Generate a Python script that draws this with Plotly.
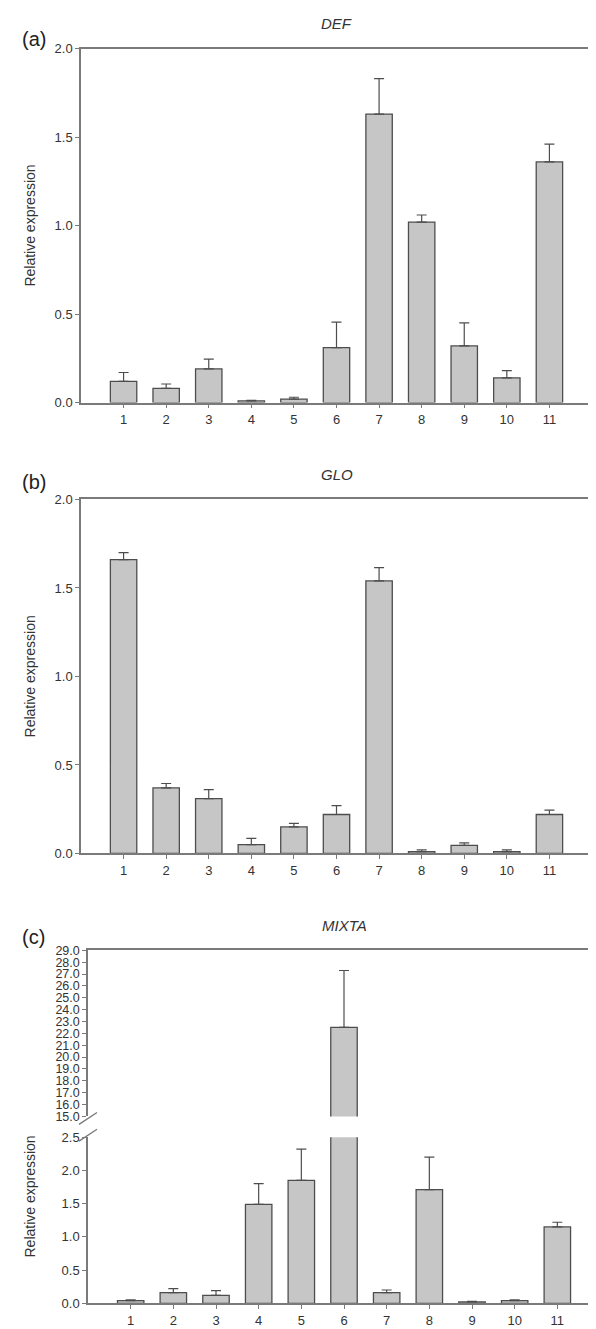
import plotly.graph_objects as go

categories = list(range(1, 12))
tick_labels = [str(c) for c in categories]

def_vals = [0.12, 0.08, 0.19, 0.01, 0.02, 0.31, 1.63, 1.02, 0.32, 0.14, 1.36]
def_err = [0.05, 0.025, 0.055, 0.003, 0.01, 0.145, 0.20, 0.04, 0.13, 0.04, 0.10]

glo_vals = [1.66, 0.37, 0.31, 0.05, 0.15, 0.22, 1.54, 0.01, 0.045, 0.01, 0.22]
glo_err = [0.04, 0.025, 0.05, 0.035, 0.02, 0.05, 0.075, 0.01, 0.015, 0.01, 0.025]

mixta_vals = [0.04, 0.16, 0.12, 1.49, 1.85, 22.5, 0.16, 1.71, 0.02, 0.04, 1.15]
mixta_err = [0.01, 0.06, 0.07, 0.31, 0.47, 4.8, 0.04, 0.49, 0.01, 0.01, 0.07]

titles = ["DEF", "GLO", "MIXTA"]
panel_labels = ["(a)", "(b)", "(c)"]
y_title = "Relative expression"

W, H = 596, 1329


def px(x):
    return x / W


def py(y):
    return 1 - y / H


FONT = "Liberation Sans, Arial, sans-serif"
AX = "#7a7a7a"
EDGE = "#4d4d4d"

fig = go.Figure()


def add(vals, err, xa, ya):
    fig.add_trace(go.Bar(
        x=categories, y=vals, xaxis=xa, yaxis=ya, width=0.62,
        marker=dict(color="#c6c6c6", line=dict(color=EDGE, width=1.3)),
        error_y=dict(type="data", symmetric=False, array=err,
                     arrayminus=[0] * len(err), color=EDGE,
                     thickness=1.2, width=5),
        showlegend=False, hoverinfo="x+y",
    ))


add(def_vals, def_err, "x", "y")
add(glo_vals, glo_err, "x2", "y2")
add(mixta_vals, mixta_err, "x3", "y3")
add(mixta_vals, mixta_err, "x4", "y4")

common = dict(showline=True, linecolor=AX, linewidth=1.5, ticks="outside",
              ticklen=4, tickcolor=AX, tickwidth=1.2, showgrid=False,
              zeroline=False, tickfont=dict(size=13, color="#333333", family=FONT))

xdom_ab = [px(73), px(584)]
xdom_c = [px(80), px(592)]

layout = dict(
    width=W, height=H, autosize=False,
    margin=dict(l=0, r=0, t=0, b=0),
    paper_bgcolor="white", plot_bgcolor="white",
    font=dict(family=FONT, color="#333333"),
)

layout["xaxis"] = dict(common, domain=xdom_ab, range=[0, 12], tickvals=categories,
                       ticktext=tick_labels, anchor="y", mirror=True)
layout["yaxis"] = dict(common, domain=[py(392), py(34)], range=[0, 2], dtick=0.5,
                       tick0=0, tickformat=".1f", anchor="x", mirror=True)
layout["xaxis2"] = dict(common, domain=xdom_ab, range=[0, 12], tickvals=categories,
                        ticktext=tick_labels, anchor="y2", mirror=True)
layout["yaxis2"] = dict(common, domain=[py(848), py(490)], range=[0, 2], dtick=0.5,
                        tick0=0, tickformat=".1f", anchor="x2", mirror=True)
layout["xaxis3"] = dict(common, domain=xdom_c, range=[0, 12], tickvals=categories,
                        ticktext=tick_labels, anchor="y3")
layout["yaxis3"] = dict(common, domain=[py(1303), py(1135)], range=[0, 2.5], dtick=0.5,
                        tick0=0, tickformat=".1f", anchor="x3", mirror=True)
layout["xaxis4"] = dict(common, domain=xdom_c, range=[0, 12], anchor="y4", side="top",
                        showticklabels=False, ticks="")
layout["yaxis4"] = dict(common, domain=[py(1114), py(946)], range=[15, 29], dtick=1,
                        tick0=15, tickformat=".1f", anchor="x4", mirror=True,
                        tickfont=dict(size=12.5, color="#333333", family=FONT))

fig.update_layout(**layout)

# break marks on panel (c)
shapes = []
for xa in (80, 592):
    for yb in (1116, 1133):
        shapes.append(dict(type="line", xref="paper", yref="paper",
                           x0=px(xa - 9), y0=py(yb + 6), x1=px(xa + 9), y1=py(yb - 6),
                           line=dict(color=AX, width=1.3)))
fig.update_layout(shapes=shapes)

ann = []
tops = [34, 490, 946]
centers_x = [(73 + 584) / 2, (73 + 584) / 2, (80 + 592) / 2]
label_y = [24, 472, 933]
ytitle_y = [213, 669, 1195]
for i in range(3):
    ann.append(dict(text="<i>" + titles[i] + "</i>", x=px(centers_x[i]), y=py(tops[i] - 25),
                    xref="paper", yref="paper", showarrow=False,
                    font=dict(size=15, color="#333333", family=FONT),
                    xanchor="center", yanchor="middle"))
    ann.append(dict(text=panel_labels[i], x=px(12), y=py(label_y[i]),
                    xref="paper", yref="paper", showarrow=False,
                    font=dict(size=20, color="#222222", family=FONT),
                    xanchor="left", yanchor="middle"))
    ann.append(dict(text=y_title, x=px(22), y=py(ytitle_y[i]),
                    xref="paper", yref="paper", showarrow=False, textangle=-90,
                    font=dict(size=14, color="#333333", family=FONT),
                    xanchor="center", yanchor="middle"))
fig.update_layout(annotations=ann)

fig.write_html("out.html")
